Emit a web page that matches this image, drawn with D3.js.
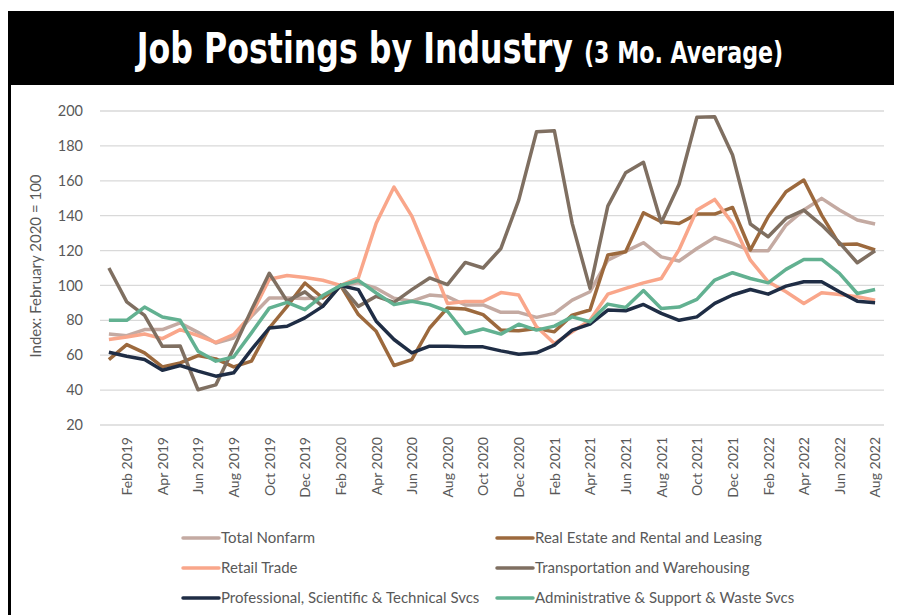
<!DOCTYPE html>
<html>
<head>
<meta charset="utf-8">
<script src="https://cdn.jsdelivr.net/npm/d3@7"></script>
<style>
  html, body { margin: 0; padding: 0; background: #fff; }
  svg { display: block; }
</style>
</head>
<body>
<svg id="chart" width="902" height="615"></svg>
<script>
// ---------- DATA ----------
const months = [
  "Jan 2019","Feb 2019","Mar 2019","Apr 2019","May 2019","Jun 2019","Jul 2019","Aug 2019","Sep 2019","Oct 2019","Nov 2019","Dec 2019",
  "Jan 2020","Feb 2020","Mar 2020","Apr 2020","May 2020","Jun 2020","Jul 2020","Aug 2020","Sep 2020","Oct 2020","Nov 2020","Dec 2020",
  "Jan 2021","Feb 2021","Mar 2021","Apr 2021","May 2021","Jun 2021","Jul 2021","Aug 2021","Sep 2021","Oct 2021","Nov 2021","Dec 2021",
  "Jan 2022","Feb 2022","Mar 2022","Apr 2022","May 2022","Jun 2022","Jul 2022","Aug 2022"
];
const tickLabels = [
  "Feb 2019","Apr 2019","Jun 2019","Aug 2019","Oct 2019","Dec 2019","Feb 2020","Apr 2020","Jun 2020","Aug 2020","Oct 2020",
  "Dec 2020","Feb 2021","Apr 2021","Jun 2021","Aug 2021","Oct 2021","Dec 2021","Feb 2022","Apr 2022","Jun 2022","Aug 2022"
];
const yTicks = [20, 40, 60, 80, 100, 120, 140, 160, 180, 200];

const totalNonfarm = [72.2,71.2,74.7,74.7,78.5,73.1,67,69.9,82.3,92.8,92.8,92.5,93,100,101.5,98.4,92.6,91,94.5,93.6,88.8,88.8,84.6,84.6,81.7,84,91.6,96.4,114.5,119.5,124.5,116.4,114,121.2,127.5,124.1,119.9,119.9,134.6,143.2,149.9,143.2,137.5,135.2];
const realEstate = [57.5,66.1,61.3,53.3,55.6,59.8,57.9,53.3,56.6,75.6,88,101.4,92.8,100,83.3,73.7,54.1,57.5,75.6,87.1,86.5,83.3,74.4,74,75.3,73.4,83,85.9,117.4,119.3,141.7,136.5,135.5,140.9,140.9,144.7,120.3,139.4,153.7,160.4,140.3,123.5,123.7,120.3];
const retailTrade = [69,70.5,72.2,69.5,74.7,71.2,67.4,71.8,83.2,103.6,105.7,104.5,103,100,104.3,135.7,156.4,139.7,115.2,89.7,90.8,90.8,95.9,94.5,76.3,66.7,73.4,80.1,95,98.3,101.5,104,120.5,143.2,149.3,135.6,114.5,102.1,96.4,89.7,95.8,94.8,93.5,91.6];
const transportation = [110,90.6,82.8,65.1,65.3,40.2,43,64,86,107,91,96.3,88,100,88,93.8,90.3,97.6,104.3,100.5,113.2,110,121.2,148.9,188.1,188.7,135.6,98.3,145.5,164.6,170.6,136,158,196.4,196.7,174.8,135.2,127.9,138.4,143.2,134.6,124.5,113,119.9];
const professional = [61.7,59.4,57.5,51.4,54.1,50.9,48,49.9,63.2,75.6,76.6,81.4,88,100,97.6,79.5,69,61.3,65.2,65.2,64.8,64.8,62.5,60.6,61.4,65.8,74.4,77.8,85.9,85.5,89.1,84,80,82,89.7,94.5,97.7,95,99.6,102.1,102.1,96.4,91,90.1];
const administrative = [80,80,87.6,81.9,80,62.3,56.6,59,72.8,87,90.3,86.1,94.2,100,102.9,95.7,89,90.9,89,85.2,72.4,75,72.1,77.8,74.4,76.7,82,79.2,89.3,87.4,97.1,86.8,87.6,92,103.1,107.3,104,101.5,109.2,114.9,114.9,106.9,95.4,97.7];

const seriesNames = [
  "Total Nonfarm","Real Estate and Rental and Leasing","Retail Trade",
  "Transportation and Warehousing","Professional, Scientific & Technical Svcs","Administrative & Support & Waste Svcs"
];
const seriesValues = [totalNonfarm, realEstate, retailTrade, transportation, professional, administrative];
const seriesColors = ["#c4aaa2","#9c693d","#f9a68a","#7f6f61","#1f2d45","#62b191"];

// ---------- LAYOUT ----------
const svg = d3.select("#chart");
const plotLeft = 100, plotRight = 884, plotTop = 111, plotBottom = 425;

// frame + title band
svg.append("rect").attr("x", 10).attr("y", 11).attr("width", 884).attr("height", 74).attr("fill", "#000");
svg.append("rect").attr("x", 8).attr("y", 11).attr("width", 3).attr("height", 604).attr("fill", "#000");

const title = svg.append("text")
  .attr("transform", "translate(460,63) scale(0.88,1.05)")
  .attr("text-anchor", "middle")
  .attr("fill", "#fff")
  .style("font-family", "'DejaVu Sans Condensed','Liberation Sans Narrow',sans-serif")
  .style("font-weight", "bold");
title.append("tspan").style("font-size", "40px").text("Job Postings by Industry ");
title.append("tspan").style("font-size", "28px").text("(3 Mo. Average)");

const x = d3.scalePoint().domain(months).range([plotLeft, plotRight]).padding(0.5);
const y = d3.scaleLinear().domain([20, 200]).range([plotBottom, plotTop]);

const fontFam = "Lato, 'Open Sans', sans-serif";

// gridlines
svg.append("g")
  .selectAll("line").data(yTicks).join("line")
  .attr("x1", plotLeft).attr("x2", plotRight)
  .attr("y1", d => y(d)).attr("y2", d => y(d))
  .attr("stroke", "#d9d9d9").attr("stroke-width", 1.3);

// y axis
const yAxis = svg.append("g").attr("transform", `translate(${plotLeft - 12},0)`)
  .call(d3.axisLeft(y).tickValues(yTicks).tickSize(0).tickPadding(5));
yAxis.select(".domain").remove();
yAxis.selectAll("text").attr("fill", "#595959").style("font-size", "14.5px").style("font-family", fontFam);

svg.append("text")
  .attr("transform", `translate(41,${(plotTop + plotBottom) / 2 - 2}) rotate(-90)`)
  .attr("text-anchor", "middle")
  .attr("fill", "#595959")
  .style("font-size", "15px").style("font-family", fontFam)
  .text("Index: February 2020 = 100");

// x axis
const xAxis = svg.append("g").attr("transform", `translate(0,${plotBottom})`)
  .call(d3.axisBottom(x).tickValues(tickLabels).tickSize(0).tickPadding(0));
xAxis.select(".domain").remove();
xAxis.selectAll("text")
  .attr("fill", "#595959")
  .style("font-size", "14px").style("font-family", fontFam)
  .attr("text-anchor", "end")
  .attr("transform", "rotate(-90)")
  .attr("x", -12).attr("y", 0).attr("dy", "0.35em");

// lines
const line = d3.line().x((d, i) => x(months[i])).y(d => y(d));
svg.append("g").selectAll("path").data(seriesValues).join("path")
  .attr("d", d => line(d))
  .attr("fill", "none")
  .attr("stroke", (d, i) => seriesColors[i])
  .attr("stroke-width", 3.5)
  .attr("stroke-linejoin", "round");

// legend
const legCols = [183, 497];
const legRows = [538, 568, 598];
const leg = svg.append("g").selectAll("g").data(seriesNames).join("g")
  .attr("transform", (d, i) => `translate(${legCols[i % 2]},${legRows[Math.floor(i / 2)]})`);
leg.append("line").attr("x1", 0).attr("x2", 36).attr("y1", 0).attr("y2", 0)
  .attr("stroke", (d, i) => seriesColors[i]).attr("stroke-width", 3.5).attr("stroke-linecap", "round");
leg.append("text").attr("x", 38).attr("y", 0).attr("dy", "0.35em")
  .attr("fill", "#595959").style("font-size", "15px").style("font-family", fontFam)
  .text(d => d);
</script>
</body>
</html>
